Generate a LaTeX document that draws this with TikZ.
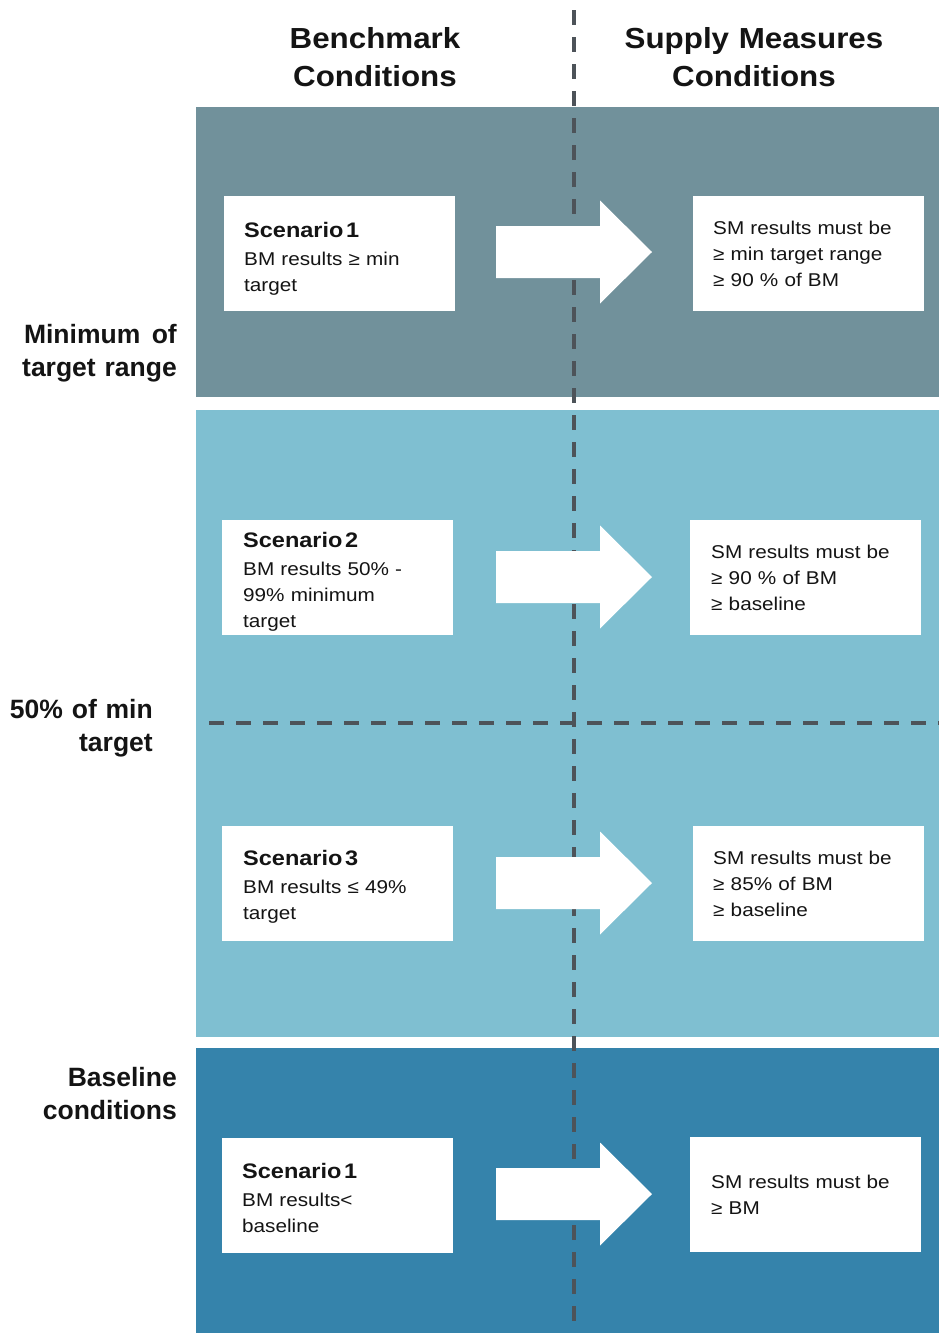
\documentclass[tikz,border=0pt]{standalone}
\usepackage{fontspec}
\setmainfont{Liberation Sans}
\newfontfamily\bodyf{Liberation Sans}[FakeStretch=1.12]
\newfontfamily\headf{Liberation Sans}[FakeStretch=1.08]
\newfontfamily\sidef{Liberation Sans}
\definecolor{bandA}{RGB}{113,145,155}
\definecolor{bandB}{RGB}{127,191,209}
\definecolor{bandC}{RGB}{53,131,171}
\definecolor{dashc}{RGB}{77,83,89}
\definecolor{ink}{RGB}{20,20,20}
\begin{document}
\begin{tikzpicture}[x=1pt,y=-1pt,
  band/.style={draw=none},
  wbox/.style={fill=white,draw=none,inner sep=0pt,outer sep=0pt,anchor=north west,minimum width=231pt,minimum height=115pt},
  dashln/.style={draw=dashc,line width=3.6pt,dash pattern=on 15pt off 12pt},
  blockarrow/.style={fill=white,draw=none},
  ttl/.style={anchor=base west,inner sep=0pt,text=ink,font=\bodyf\bfseries\fontsize{21}{26}\selectfont},
  txt/.style={anchor=base west,inner sep=0pt,text=ink,text width=210pt,align=left,font=\bodyf\fontsize{18.5}{26}\selectfont},
  head/.style={anchor=base,inner sep=0pt,text=ink,text width=320pt,align=center,font=\headf\bfseries\fontsize{29}{38}\selectfont},
  side/.style={anchor=base east,inner sep=0pt,text=ink,text width=200pt,align=right,font=\sidef\bfseries\fontsize{26.5}{33}\selectfont}
]
\useasboundingbox[fill=white] (0,0) rectangle (939,1333);

% bands
\fill[bandA] (196,107) rectangle (939,397);
\fill[bandB] (196,410) rectangle (939,1037);
\fill[bandC] (196,1048) rectangle (939,1333);

% dashed dividers
\coordinate (vtop) at (574,10);
\coordinate (vbot) at (574,1333);
\coordinate (hl) at (209,723);
\coordinate (hr) at (939,723);
\draw[dashln] (vtop) -- (vbot);
\draw[dashln] (hl) -- (hr);

% headers
\node[head] (h1) at (375,48) {Benchmark\\Conditions};
\node[head] (h2) at (754,48) {Supply Measures\\Conditions};

% side labels
\node[side] (l1) at (177,343) {Minimum\hspace{0.1em} of\\target range};
\node[side] (l2) at (153,718) {50\% of min\\target};
\node[side] (l3) at (177,1086) {Baseline\\conditions};

% boxes
\node[wbox] (b1l) at (224,196) {};
\node[wbox] (b1r) at (693,196) {};
\node[wbox] (b2l) at (222,520) {};
\node[wbox] (b2r) at (690,520) {};
\node[wbox] (b3l) at (222,826) {};
\node[wbox] (b3r) at (693,826) {};
\node[wbox] (b4l) at (222,1138) {};
\node[wbox] (b4r) at (690,1137) {};

% block arrows
\foreach \n/\yy in {1/252,2/577,3/883,4/1194}{
  \coordinate (a\n) at (496,\yy);
  \fill[blockarrow,shift={(a\n)}] (0,-26) -- (104,-26) -- (104,-51.5) -- (156,0) -- (104,51.5) -- (104,26) -- (0,26) -- cycle;
}

% texts row 1
\node[ttl] (s1) at (244,237) {Scenario\hspace{0.12em}1};
\node[txt] (s1t) at (244,265) {BM results ≥ min\\target};
\node[txt] (r1t) at (713,234) {SM results must be\\≥ min target range\\≥ 90 \% of BM};

% row 2
\node[ttl] (s2) at (243,547) {Scenario\hspace{0.12em}2};
\node[txt] (s2t) at (243,575) {BM results 50\% -\\99\% minimum\\target};
\node[txt] (r2t) at (711,558) {SM results must be\\≥ 90 \% of BM\\≥ baseline};

% row 3
\node[ttl] (s3) at (243,865) {Scenario\hspace{0.12em}3};
\node[txt] (s3t) at (243,893) {BM results ≤ 49\%\\target};
\node[txt] (r3t) at (713,864) {SM results must be\\≥ 85\% of BM\\≥ baseline};

% row 4
\node[ttl] (s4) at (242,1178) {Scenario\hspace{0.12em}1};
\node[txt] (s4t) at (242,1206) {BM results<\\baseline};
\node[txt] (r4t) at (711,1188) {SM results must be\\≥ BM};
\end{tikzpicture}
\end{document}
